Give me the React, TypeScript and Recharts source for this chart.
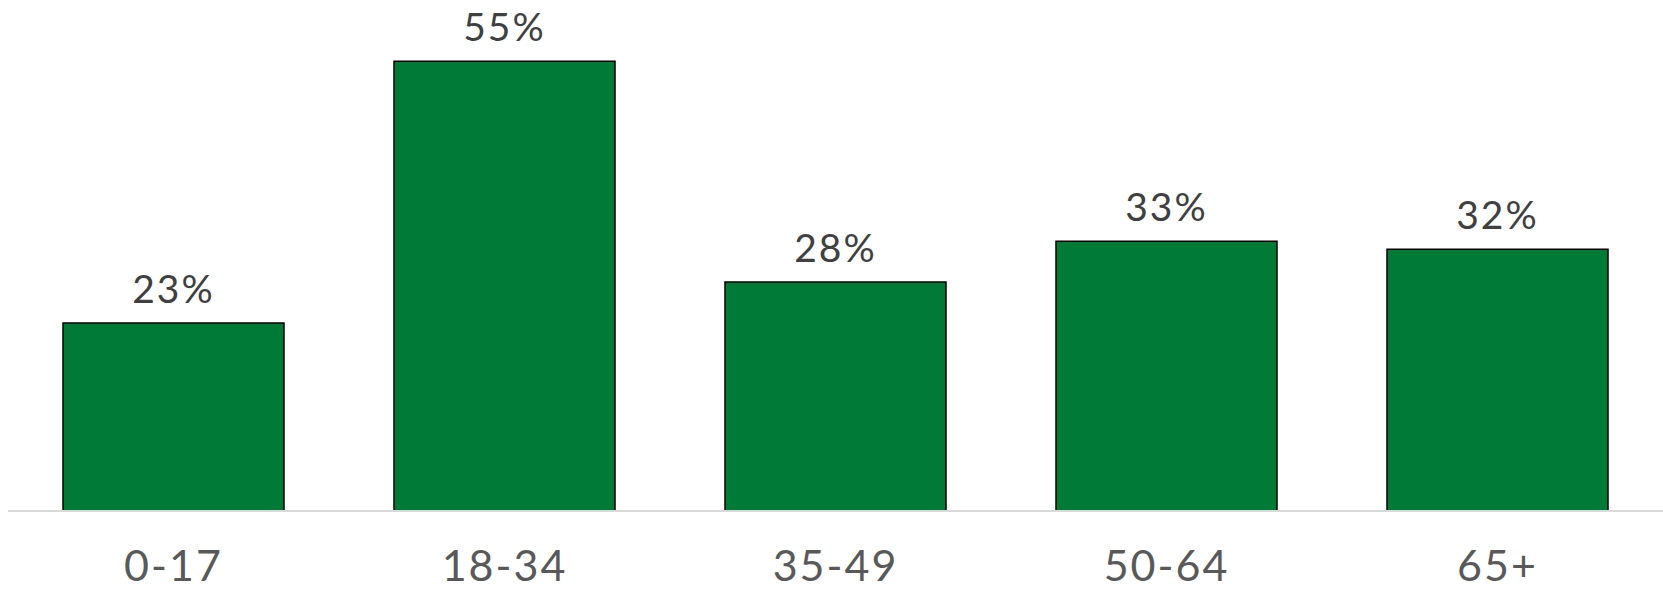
import React from "react";
import { BarChart, Bar, XAxis, YAxis, LabelList } from "recharts";

const categories = ["0-17", "18-34", "35-49", "50-64", "65+"];
const values = [23, 55, 28, 33, 32];

const data = categories.map((c, i) => ({ name: c, value: values[i] }));

const FONT = "Lato, 'Open Sans', sans-serif";

const Tick = (props: any) => {
  const { x, y, payload } = props;
  return (
    <text x={x} y={y + 70} textAnchor="middle" fill="#595959" fontSize={43} fontFamily={FONT} letterSpacing={2}>
      {payload.value}
    </text>
  );
};

export default function App() {
  return (
    <div style={{ position: "absolute", left: 0, top: 0, width: 1663, height: 589, background: "#fff" }}>
      <BarChart width={1663} height={589} data={data} margin={{ top: 0, right: 0, bottom: 0, left: 8 }}>
        <YAxis hide domain={[0, 62.5]} />
        <XAxis
          dataKey="name"
          height={78}
          tickLine={false}
          tickSize={0}
          tickMargin={0}
          axisLine={{ stroke: "#D9D9D9", strokeWidth: 2 }}
          tick={<Tick />}
          interval={0}
        />
        <Bar dataKey="value" fill="#007A37" stroke="#000" strokeWidth={1.5} barSize={221} isAnimationActive={false}>
          <LabelList
            dataKey="value"
            position="top"
            offset={20}
            formatter={(v: any) => `${v}%`}
            fill="#404040"
            fontSize={39}
            fontFamily={FONT}
            letterSpacing={2}
          />
        </Bar>
      </BarChart>
    </div>
  );
}
